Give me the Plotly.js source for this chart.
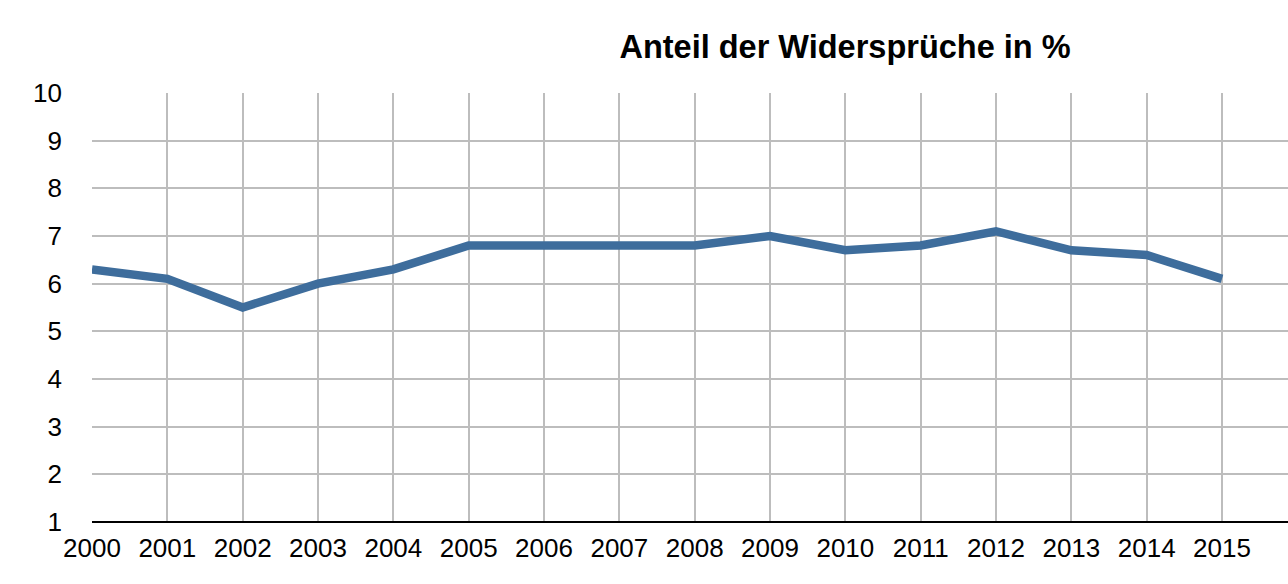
<!DOCTYPE html>
<html><head><meta charset="utf-8">
<script src="https://cdn.plot.ly/plotly-3.0.1.min.js"></script>
<style>html,body{margin:0;padding:0;background:#fff;}#chart{width:1288px;height:584px;}</style>
</head><body><div id="chart"></div>
<script>
const years = [2000,2001,2002,2003,2004,2005,2006,2007,2008,2009,2010,2011,2012,2013,2014,2015];
const shares = [6.3,6.1,5.5,6.0,6.3,6.8,6.8,6.8,6.8,7.0,6.7,6.8,7.1,6.7,6.6,6.1];
const titleText = 'Anteil der Widersprüche in %';
const yTicks = [1,2,3,4,5,6,7,8,9,10];

Plotly.newPlot('chart', [{
  x: years, y: shares, type: 'scatter', mode: 'lines',
  line: {color: '#3e6d9c', width: 8.5}, hoverinfo: 'skip'
}], {
  width: 1288, height: 584,
  margin: {l: 92, r: 0, t: 93, b: 62},
  paper_bgcolor: '#fff', plot_bgcolor: '#fff',
  font: {family: 'Liberation Sans, Arial, sans-serif', color: '#000', size: 26},
  title: {text: '<b>' + titleText + '</b>', font: {size: 32.5, color: '#000'}, x: 845/1288, xanchor: 'center', xref: 'container', y: 1 - 47/584, yanchor: 'middle', yref: 'container'},
  showlegend: false,
  xaxis: {range: [2000, 2015.876], tickvals: years, ticktext: years.map(String), showgrid: true, gridcolor: '#bdbdbd', gridwidth: 2, zeroline: false, showline: false, ticks: '', ticklabelstandoff: 8, tickfont: {size: 26}},
  yaxis: {range: [1, 10], tickvals: yTicks, showgrid: true, gridcolor: '#bdbdbd', gridwidth: 2, zeroline: false, showline: false, ticks: '', ticklabelstandoff: 29, tickfont: {size: 26}},
  shapes: [{type: 'line', xref: 'paper', yref: 'paper', x0: 0, x1: 1, y0: 0, y1: 0, line: {color: '#000', width: 2}}]
}, {displayModeBar: false, staticPlot: true});
</script></body></html>
